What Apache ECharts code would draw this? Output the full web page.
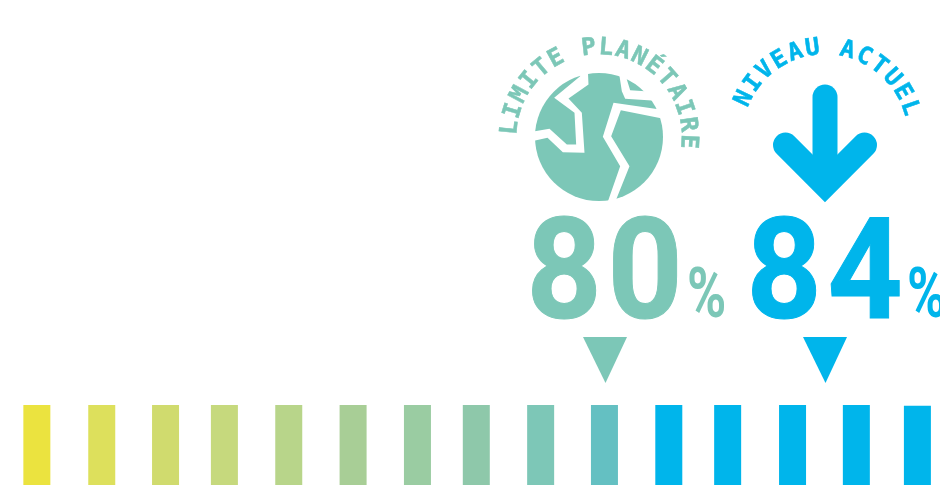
<!DOCTYPE html>
<html lang="fr">
<head>
<meta charset="utf-8">
<title>Limite planétaire et niveau actuel</title>
<style>html,body{margin:0;padding:0;background:#fff}#chart{width:940px;height:485px}</style>
<script src="https://cdn.jsdelivr.net/npm/echarts@6/dist/echarts.min.js"></script>
</head>
<body>
<div id="chart"></div>
<script>
// Gauge of 15 bars placed along a percentage scale
const barPercents = [69.67, 70.85, 72.01, 73.08, 74.25, 75.42, 76.59, 77.66, 78.83, 79.99, 81.16, 82.23, 83.41, 84.57, 85.68];
const barHeights = [1, 1, 1, 1, 1, 1, 1, 1, 1, 1, 1, 1, 1, 1, 0.99];
const barColors = ['#ebe33f', '#dde05c', '#d0db6e', '#c6d97d', '#b8d58a', '#a8ce96', '#9acca2', '#8ec8aa', '#7dc7b7', '#64c0c2',
  '#00b5eb', '#00b5eb', '#00b5eb', '#00b5eb', '#00b5eb'];

const markerValues = [80, 84];
const markerTitles = ['LIMITE PLANÉTAIRE', 'NIVEAU ACTUEL'];
const markerColors = ['#7cc7b7', '#00b5eb'];

const TITLE_ARC = [{ start: -84, step: 11.06 }, { start: -64.5, step: 11.3 }];

// Curved caption: one rotated text element per character
function arcLetters(title, arc, cx, cy, fill) {
  const r = 89;
  return Array.from(title).map((ch, i) => {
    const a = (arc.start + i * arc.step) * Math.PI / 180;
    return {
      type: 'text',
      x: cx + r * Math.sin(a),
      y: cy - r * Math.cos(a),
      rotation: -a,
      style: {
        text: ch, font: 'bold 24px "DejaVu Sans Mono"', fill, stroke: fill, lineWidth: 0.5,
        align: 'center', verticalAlign: 'middle'
      }
    };
  });
}

// Globe with white crack shapes cut across it
function globe(cx, cy, fill) {
  const cracks = [
    [[270,170],[192,235],[253,280],[258,375],[230,375],[178,328],[125,337],[125,365],[172,355],[218,398],[283,400],[275,280],[235,237],[295,195],[293,150],[270,150]],
    [[385,150],[395,215],[405,238],[485,243],[505,240],[465,215],[420,212],[410,180],[410,150]],
    [[370,250],[338,352],[390,440],[350,555],[378,540],[418,440],[363,350],[392,272],[520,298],[510,270]]
  ];
  return {
    type: 'group',
    x: cx - 326.5 / 3,
    y: cy - 352.5 / 3,
    scaleX: 1 / 3,
    scaleY: 1 / 3,
    children: [
      { type: 'circle', shape: { cx: 326.5, cy: 352.5, r: 192 }, style: { fill } },
      ...cracks.map(points => ({ type: 'polygon', shape: { points }, style: { fill: '#fff' } }))
    ]
  };
}

// Downward arrow with rounded ends
function arrow(cx, cy, stroke) {
  const line = points => ({
    type: 'polyline',
    shape: { points },
    style: { stroke, fill: 'none', lineWidth: 25, lineCap: 'round', lineJoin: 'miter' }
  });
  return [
    line([[cx, cy - 40], [cx, cy + 45]]),
    line([[cx - 39.5, cy + 8], [cx, cy + 47.5], [cx + 39.5, cy + 8]])
  ];
}

// Large figure, one element per digit so the pair keeps its spacing
function bigDigits(value, x, y, fill) {
  return Array.from(String(value)).map((d, k) => ({
    type: 'text',
    x: x + (k === 0 ? -41 : 40),
    y,
    scaleX: 0.93,
    style: {
      text: d, font: 'bold 141px Roboto', fill, stroke: fill, lineWidth: 1,
      align: 'center', verticalAlign: 'middle'
    }
  }));
}

function renderMarker(params, api) {
  const i = params.dataIndex;
  const p = api.coord([api.value(0), api.value(1)]);
  const x = p[0], top = p[1];
  const fill = markerColors[i];
  const cy = top - 268;
  const symbol = i === 0 ? [globe(x - 6, cy, fill)] : arrow(x, cy, fill);
  return {
    type: 'group',
    children: [
      ...symbol,
      ...arcLetters(markerTitles[i], TITLE_ARC[i], i === 0 ? x - 6 : x, cy, fill),
      ...bigDigits(markerValues[i], x, top - 122, fill),
      {
        type: 'text', x: x + 82, y: top - 106,
        scaleX: 0.76,
        style: { text: '%', font: 'bold 70px Roboto', fill, align: 'left', verticalAlign: 'middle' }
      },
      {
        type: 'polygon',
        shape: { points: [[x - 22, top - 68], [x + 22, top - 68], [x + 0.5, top - 22]] },
        style: { fill }
      }
    ]
  };
}

const chart = echarts.init(document.getElementById('chart'), null, { renderer: 'canvas' });
chart.setOption({
  animation: false,
  backgroundColor: '#fff',
  grid: { left: 0, right: 0, top: 0, bottom: 0 },
  xAxis: { type: 'value', min: 69, max: 69 + 940 / 55, show: false },
  yAxis: { type: 'value', min: 0, max: 485 / 80, show: false },
  series: [
    {
      type: 'bar',
      barWidth: 27,
      silent: true,
      data: barPercents.map((x, i) => ({ value: [x, barHeights[i]], itemStyle: { color: barColors[i] } }))
    },
    {
      type: 'custom',
      clip: false,
      silent: true,
      encode: { x: 0, y: 1 },
      renderItem: renderMarker,
      data: markerValues.map(v => [v, 1])
    }
  ]
});
</script>
</body>
</html>
